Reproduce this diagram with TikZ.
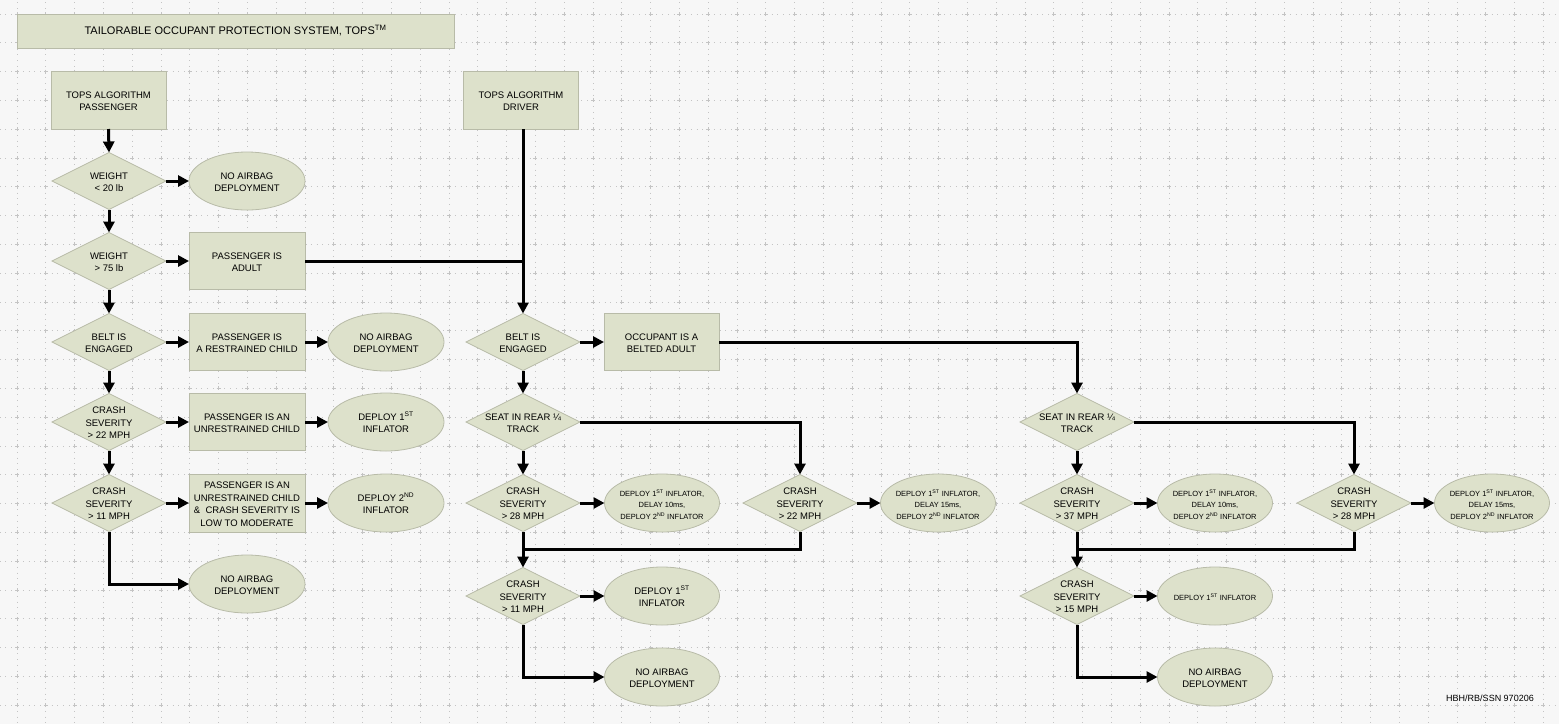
\documentclass[tikz,border=0pt]{standalone}
\usepackage{fontspec}
\setmainfont{Liberation Sans}
\usetikzlibrary{shapes.geometric,arrows.meta}
\definecolor{bgc}{HTML}{F7F7F7}
\definecolor{fillc}{HTML}{DDE1CB}
\definecolor{edgec}{HTML}{B8BBA8}
\definecolor{gridc}{HTML}{C4C4C4}
\newcommand\dtx[1]{\smash{\makebox[0pt]{\raisebox{-4pt}{\begin{tabular}{@{}c@{}}#1\end{tabular}}}}}
\newcommand\sst{\textsuperscript{ST}}
\newcommand\snd{\textsuperscript{ND}}
\begin{document}
\begin{tikzpicture}[x=1pt,y=-1pt,
  base/.style={draw=edgec, line width=0.8pt, fill=fillc, inner sep=0pt, outer sep=0pt, font=\fontsize{9.5}{12.5}\selectfont},
  box/.style={base, rectangle, minimum width=116pt, minimum height=57pt},
  dia/.style={base, diamond, minimum width=114pt, minimum height=57pt},
  oval/.style={base, ellipse, minimum width=116pt, minimum height=58pt},
  small/.style={font=\fontsize{7.5}{11.5}\selectfont},
  arr/.style={line width=3pt, -{Triangle[length=11pt,width=11pt]}},
  ln/.style={line width=3pt},
  griddots/.style={draw=gridc, line width=0.9pt, dash pattern=on 0.9pt off 4.86pt},
  gridcross/.style={draw=gridc, line width=0.8pt}
]
\useasboundingbox (0,0) rectangle (1559,724);
\fill[bgc] (0,0) rectangle (1559,724);
% grid
\begin{scope}
\clip (0,0) rectangle (1559,724);
\foreach \k in {0,...,53} \draw[griddots] ({17+28.8*\k},{14-28.8}) -- ({17+28.8*\k},740);
\foreach \k in {-1,...,24} \draw[griddots] ({17-28.8},{14+28.8*\k}) -- (1575,{14+28.8*\k});
\foreach \k in {0,...,53} \foreach \j in {0,...,24}
  \draw[gridcross] ({17+28.8*\k-2},{14+28.8*\j}) -- ({17+28.8*\k+2},{14+28.8*\j})
                   ({17+28.8*\k},{14+28.8*\j-2}) -- ({17+28.8*\k},{14+28.8*\j+2});
\end{scope}

% title
\node[base, rectangle, minimum width=437pt, minimum height=34pt, font=\fontsize{11}{13}\selectfont] (title) at (235.5,31) {\dtx{TAILORABLE OCCUPANT PROTECTION SYSTEM, TOPS\textsuperscript{TM}}};

% passenger column
\node[box, minimum width=115pt, minimum height=58pt] (pAlg) at (108.5,100) {\dtx{TOPS ALGORITHM\\PASSENGER}};
\node[dia] (pW20) at (109,181) {\dtx{WEIGHT\\< 20 lb}};
\node[oval] (pNo1) at (247,181) {\dtx{NO AIRBAG\\DEPLOYMENT}};
\node[dia] (pW75) at (109,261) {\dtx{WEIGHT\\> 75 lb}};
\node[box] (pAdult) at (247,261) {\dtx{PASSENGER IS\\ADULT}};
\node[dia] (pBelt) at (109,342) {\dtx{BELT IS\\ENGAGED}};
\node[box] (pRestr) at (247,342) {\dtx{PASSENGER IS\\A RESTRAINED CHILD}};
\node[oval] (pNo2) at (386,342) {\dtx{NO AIRBAG\\DEPLOYMENT}};
\node[dia] (pC22) at (109,422) {\dtx{CRASH\\SEVERITY\\> 22 MPH}};
\node[box] (pUnr) at (247,422) {\dtx{PASSENGER IS AN\\UNRESTRAINED CHILD}};
\node[oval] (pDep1) at (386,422) {\dtx{DEPLOY 1\sst\\INFLATOR}};
\node[dia] (pC11) at (109,503) {\dtx{CRASH\\SEVERITY\\> 11 MPH}};
\node[box, minimum height=58pt] (pUnrLow) at (247,503) {\dtx{PASSENGER IS AN\\UNRESTRAINED CHILD\\\&\ \ CRASH SEVERITY IS\\LOW TO MODERATE}};
\node[oval] (pDep2) at (386,503) {\dtx{DEPLOY 2\snd\\INFLATOR}};
\node[oval] (pNo3) at (247,584) {\dtx{NO AIRBAG\\DEPLOYMENT}};

% driver column
\node[box, minimum width=115pt, minimum height=58pt] (dAlg) at (521,100) {\dtx{TOPS ALGORITHM\\DRIVER}};
\node[dia] (dBelt) at (523,342) {\dtx{BELT IS\\ENGAGED}};
\node[box, minimum width=115pt] (dAdult) at (661.5,342) {\dtx{OCCUPANT IS A\\BELTED ADULT}};
\node[dia] (dSeat) at (523,422) {\dtx{SEAT IN REAR ¼\\TRACK}};
\node[dia] (dC28) at (523,503) {\dtx{CRASH\\SEVERITY\\> 28 MPH}};
\node[oval, minimum width=115pt, small] (dE1) at (662,503) {\dtx{DEPLOY 1\sst\ INFLATOR,\\DELAY 10ms,\\DEPLOY 2\snd\ INFLATOR}};
\node[dia] (dC22) at (800,503) {\dtx{CRASH\\SEVERITY\\> 22 MPH}};
\node[oval, minimum width=115pt, small] (dE2) at (938,503) {\dtx{DEPLOY 1\sst\ INFLATOR,\\DELAY 15ms,\\DEPLOY 2\snd\ INFLATOR}};
\coordinate (dJ) at (523,549);
\node[dia] (dC11) at (523,596) {\dtx{CRASH\\SEVERITY\\> 11 MPH}};
\node[oval, minimum width=115pt] (dDep1) at (662,596) {\dtx{DEPLOY 1\sst\\INFLATOR}};
\node[oval, minimum width=115pt] (dNo) at (662,677) {\dtx{NO AIRBAG\\DEPLOYMENT}};

% belted driver column
\node[dia] (bSeat) at (1077,422) {\dtx{SEAT IN REAR ¼\\TRACK}};
\node[dia] (bC37) at (1077,503) {\dtx{CRASH\\SEVERITY\\> 37 MPH}};
\node[oval, minimum width=115pt, small] (bE1) at (1215,503) {\dtx{DEPLOY 1\sst\ INFLATOR,\\DELAY 10ms,\\DEPLOY 2\snd\ INFLATOR}};
\node[dia] (bC28) at (1354,503) {\dtx{CRASH\\SEVERITY\\> 28 MPH}};
\node[oval, minimum width=115pt, small] (bE2) at (1492,503) {\dtx{DEPLOY 1\sst\ INFLATOR,\\DELAY 15ms,\\DEPLOY 2\snd\ INFLATOR}};
\coordinate (bJ) at (1077,549);
\node[dia] (bC15) at (1077,596) {\dtx{CRASH\\SEVERITY\\> 15 MPH}};
\node[oval, minimum width=115pt, small] (bDep1) at (1215,596) {\dtx{DEPLOY 1\sst\ INFLATOR}};
\node[oval, minimum width=115pt] (bNo) at (1215,677) {\dtx{NO AIRBAG\\DEPLOYMENT}};

\node[font=\fontsize{9}{11}\selectfont, inner sep=0pt] (sig) at (1490,698) {HBH/RB/SSN 970206};

% passenger connectors
\draw[arr] (pAlg.south) -- (pW20.north);
\draw[arr] (pW20.east) -- (pNo1.west);
\draw[arr] (pW20.south) -- (pW75.north);
\draw[arr] (pW75.east) -- (pAdult.west);
\draw[arr] (pW75.south) -- (pBelt.north);
\draw[arr] (pBelt.east) -- (pRestr.west);
\draw[arr] (pRestr.east) -- (pNo2.west);
\draw[arr] (pBelt.south) -- (pC22.north);
\draw[arr] (pC22.east) -- (pUnr.west);
\draw[arr] (pUnr.east) -- (pDep1.west);
\draw[arr] (pC22.south) -- (pC11.north);
\draw[arr] (pC11.east) -- (pUnrLow.west);
\draw[arr] (pUnrLow.east) -- (pDep2.west);
\draw[arr] (pC11.south) |- (pNo3.west);

% driver connectors
\draw[arr] (dAlg.south -| dBelt.north) -- (dBelt.north);
\draw[ln] (pAdult.east) -- (pAdult.east -| dBelt.north);
\draw[arr] (dBelt.east) -- (dAdult.west);
\draw[arr] (dAdult.east) -| (bSeat.north);
\draw[arr] (dBelt.south) -- (dSeat.north);
\draw[arr] (dSeat.east) -| (dC22.north);
\draw[arr] (dSeat.south) -- (dC28.north);
\draw[arr] (dC28.east) -- (dE1.west);
\draw[arr] (dC22.east) -- (dE2.west);
\draw[arr] (dC28.south) -- (dC11.north);
\draw[ln] (dC22.south) |- (dJ);
\draw[arr] (dC11.east) -- (dDep1.west);
\draw[arr] (dC11.south) |- (dNo.west);

% belted driver connectors
\draw[arr] (bSeat.east) -| (bC28.north);
\draw[arr] (bSeat.south) -- (bC37.north);
\draw[arr] (bC37.east) -- (bE1.west);
\draw[arr] (bC28.east) -- (bE2.west);
\draw[arr] (bC37.south) -- (bC15.north);
\draw[ln] (bC28.south) |- (bJ);
\draw[arr] (bC15.east) -- (bDep1.west);
\draw[arr] (bC15.south) |- (bNo.west);
\end{tikzpicture}
\end{document}
